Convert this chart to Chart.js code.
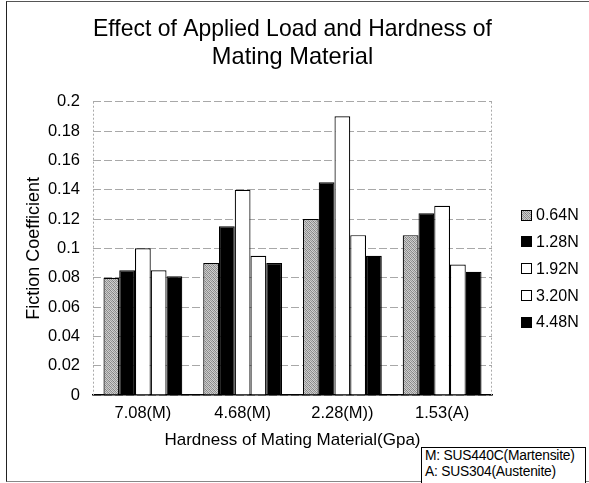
<!DOCTYPE html>
<html>
<head>
<meta charset="utf-8">
<script src="https://cdn.jsdelivr.net/npm/chart.js@4/dist/chart.umd.min.js"></script>
<style>
  html, body { margin: 0; padding: 0; background: #fff; }
  #wrap { position: relative; width: 589px; height: 483px; overflow: hidden; background: #fff; }
  #c { position: absolute; left: 0; top: 0; }
  #frame { position: absolute; left: 6px; top: 1px; width: 620px; height: 481px; border-left: 1px solid #222; border-top: 1px solid #555; border-bottom: 1px solid #888; box-sizing: border-box; pointer-events: none; }
  #note { position: absolute; left: 421px; top: 447px; width: 165px; height: 40px; border: 1px solid #000; box-sizing: border-box; background: #fff;
          font-family: "Liberation Sans", Arial, sans-serif; font-size: 13.8px; line-height: 16px; padding: 0 0 0 3px; color: #000; white-space: nowrap; letter-spacing: -0.2px; }
</style>
</head>
<body>
<div id="wrap">
  <canvas id="c" width="589" height="483"></canvas>
  <div id="frame"></div>
  <div id="note">M: SUS440C(Martensite)<br>A: SUS304(Austenite)</div>
</div>
<script>
const titleLines = ['Effect of Applied Load and Hardness of', 'Mating Material'];
const xAxisTitle = 'Hardness of Mating Material(Gpa)';
const yAxisTitle = 'Fiction Coefficient';
const categories = ['7.08(M)', '4.68(M)', '2.28(M))', '1.53(A)'];
const seriesLabels = ['0.64N', '1.28N', '1.92N', '3.20N', '4.48N'];
const load064 = [0.080, 0.090, 0.120, 0.109];
const load128 = [0.085, 0.115, 0.145, 0.124];
const load192 = [0.100, 0.140, 0.190, 0.129];
const load320 = [0.085, 0.095, 0.109, 0.089];
const load448 = [0.081, 0.090, 0.095, 0.084];
const yTickLabels = ['0', '0.02', '0.04', '0.06', '0.08', '0.1', '0.12', '0.14', '0.16', '0.18', '0.2'];

const FONT = '"Liberation Sans", Arial, sans-serif';
Chart.defaults.font.family = FONT;
Chart.defaults.color = '#000';

// stipple pattern for the grey series
function makeStipple() {
  const p = document.createElement('canvas');
  p.width = 4; p.height = 4;
  const g = p.getContext('2d');
  const cols = [
    ['#8a8a8a', '#cfcfcf', '#a0a0a0', '#c4c4c4'],
    ['#c8c8c8', '#7e7e7e', '#d2d2d2', '#959595'],
    ['#9c9c9c', '#cacaca', '#848484', '#d0d0d0'],
    ['#d4d4d4', '#999999', '#c6c6c6', '#8c8c8c']
  ];
  for (let y = 0; y < 4; y++) for (let x = 0; x < 4; x++) { g.fillStyle = cols[y][x]; g.fillRect(x, y, 1, 1); }
  return document.getElementById('c').getContext('2d').createPattern(p, 'repeat');
}
const stipple = makeStipple();
const fills = [stipple, '#000000', '#ffffff', '#ffffff', '#000000'];
const seriesData = [load064, load128, load192, load320, load448];

const extras = {
  id: 'extras',
  beforeDatasetsDraw(chart) {
    const { ctx, chartArea: a } = chart;
    ctx.save();
    ctx.strokeStyle = '#aaa';
    ctx.lineWidth = 1;
    ctx.setLineDash([2, 2]);
    ctx.beginPath();
    ctx.moveTo(Math.round(a.right) - 0.5, a.top);
    ctx.lineTo(Math.round(a.right) - 0.5, a.bottom);
    ctx.moveTo(Math.round(a.left) + 0.5, a.top);
    ctx.lineTo(Math.round(a.left) + 0.5, a.bottom);
    ctx.stroke();
    ctx.restore();
  },
  afterDraw(chart) {
    const { ctx } = chart;
    ctx.save();
    ctx.font = '16px ' + FONT;
    ctx.textBaseline = 'middle';
    ctx.textAlign = 'left';
    chart.data.datasets.forEach((ds, i) => {
      const y = 215 + i * 26.75;
      ctx.fillStyle = ds.backgroundColor;
      ctx.fillRect(521, Math.round(y - 5.5), 11, 11);
      ctx.strokeStyle = '#000';
      ctx.lineWidth = 1;
      ctx.strokeRect(521.5, Math.round(y - 5.5) + 0.5, 10, 10);
      ctx.fillStyle = '#000';
      ctx.fillText(ds.label, 536, y + 1);
    });
    ctx.restore();
  }
};

new Chart(document.getElementById('c'), {
  type: 'bar',
  data: {
    labels: categories,
    datasets: seriesLabels.map((lab, i) => ({
      label: lab,
      data: seriesData[i],
      backgroundColor: fills[i],
      borderColor: '#000',
      borderWidth: 1.2,
      barPercentage: 1.0,
      categoryPercentage: 0.79
    }))
  },
  options: {
    responsive: false,
    animation: false,
    devicePixelRatio: 1,
    layout: { padding: { top: 0, left: 6, right: 97, bottom: 0 } },
    plugins: {
      legend: { display: false },
      tooltip: { enabled: false },
      title: {
        display: true,
        fullSize: false,
        text: titleLines,
        color: '#000',
        font: { size: 23.6, weight: 'normal', family: FONT, lineHeight: 1.18 },
        padding: { top: 16, bottom: 30 }
      }
    },
    scales: {
      x: {
        grid: { display: false, drawTicks: false },
        border: { display: true, color: '#000', width: 1.5 },
        ticks: { font: { size: 16.5 }, padding: 9, color: '#000', maxRotation: 0 },
        title: { display: true, text: xAxisTitle, font: { size: 17 }, color: '#000', padding: { top: 0, bottom: 32 } },
        afterFit(s) { s.height = 88; }
      },
      y: {
        min: 0, max: 0.2,
        grid: { color: '#a8a8a8', lineWidth: 1, drawTicks: false },
        border: { display: false, dash: [8, 3] },
        ticks: {
          stepSize: 0.02,
          font: { size: 16.5 },
          padding: 13,
          color: '#000',
          callback: (v, i) => yTickLabels[i]
        },
        title: { display: true, text: yAxisTitle, font: { size: 18 }, color: '#000', padding: { top: 17, bottom: 0 } },
        afterFit(s) { s.width = 87; }
      }
    }
  },
  plugins: [extras]
});
</script>
</body>
</html>
